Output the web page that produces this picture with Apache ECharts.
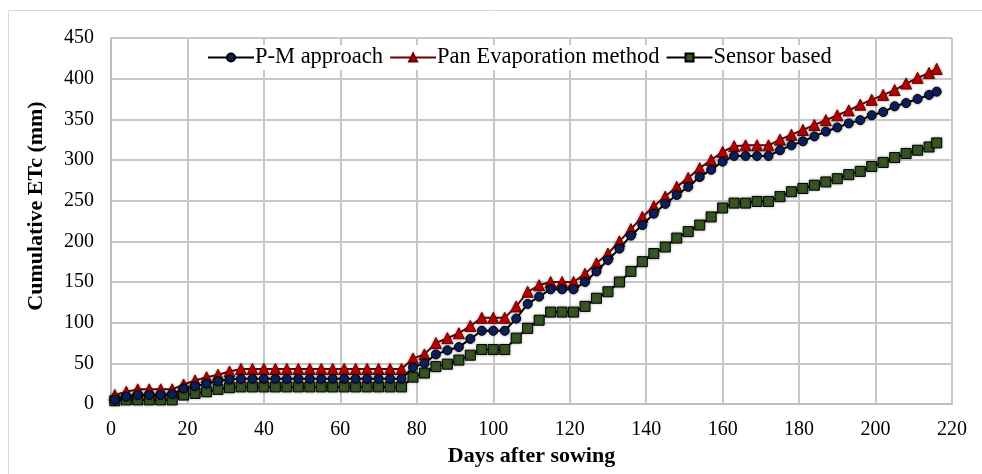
<!DOCTYPE html>
<html>
<head>
<meta charset="utf-8">
<script src="https://cdn.jsdelivr.net/npm/echarts@6/dist/echarts.min.js"></script>
<style>
  html, body { margin: 0; padding: 0; background: #fff; }
  #chart { width: 982px; height: 474px; }
</style>
</head>
<body>
<div id="chart"></div>
<script>
// 播種後日数（3日ごと）
const days = [1, 4, 7, 10, 13, 16, 19, 22, 25, 28, 31, 34, 37, 40, 43, 46, 49, 52, 55, 58,
  61, 64, 67, 70, 73, 76, 79, 82, 85, 88, 91, 94, 97, 100, 103, 106, 109, 112, 115, 118,
  121, 124, 127, 130, 133, 136, 139, 142, 145, 148, 151, 154, 157, 160, 163, 166, 169, 172, 175, 178,
  181, 184, 187, 190, 193, 196, 199, 202, 205, 208, 211, 214, 216];

// P-M approach
const pmValues = [5, 9, 11, 11, 11, 12, 19, 22, 25, 28, 30, 31, 31, 31, 31, 31, 31, 31, 31, 31,
  31, 31, 31, 31, 31, 31, 45, 50, 61, 66, 70, 80, 90, 90, 90, 105, 123, 132, 141, 141,
  141, 150, 163, 177, 191, 207, 220, 234, 246, 257, 267, 279, 288, 298, 305, 305, 305, 305, 312, 318,
  323, 329, 335, 340, 345, 349, 355, 359, 366, 370, 375, 380, 384];

// Pan Evaporation method
const panValues = [11, 15, 18, 18, 18, 18, 24, 29, 33, 36, 40, 43, 43, 43, 43, 43, 43, 43, 43, 43,
  43, 43, 43, 43, 43, 43, 56, 61, 75, 81, 87, 96, 106, 106, 106, 120, 138, 146, 150, 150,
  150, 160, 173, 185, 200, 215, 230, 243, 255, 267, 278, 290, 300, 310, 317, 318, 318, 318, 325, 331,
  337, 343, 349, 355, 361, 368, 374, 380, 386, 394, 401, 407, 412];

// Sensor based
const sensorValues = [4, 5, 5, 5, 5, 5, 11, 13, 15, 18, 20, 21, 21, 21, 21, 21, 21, 21, 21, 21,
  21, 21, 21, 21, 21, 21, 33, 38, 46, 49, 54, 60, 67, 67, 67, 81, 93, 103, 113, 113,
  113, 120, 130, 138, 150, 163, 175, 185, 193, 204, 212, 220, 230, 241, 247, 247, 249, 249, 255, 261,
  265, 269, 273, 277, 282, 286, 292, 297, 303, 308, 312, 316, 321];

const seriesNames = ['P-M approach', 'Pan Evaporation method', 'Sensor based'];

const chart = echarts.init(document.getElementById('chart'));

const font = '"Liberation Serif", "Times New Roman", serif';

// 日数と値を組にする
const toPairs = values => days.map((d, i) => [d, values[i]]);

const markerShadow = {
  shadowColor: 'rgba(0,0,0,0.35)',
  shadowBlur: 3
};

const option = {
  animation: false,
  backgroundColor: '#fff',
  textStyle: { fontFamily: font },
  graphic: [{
    type: 'rect',
    shape: { x: 8.5, y: 10.5, width: 1000, height: 1000 },
    style: { fill: 'none', stroke: '#d9d9d9', lineWidth: 1 },
    silent: true,
    z: -1
  }],
  grid: { left: 111, right: 30, top: 38, bottom: 70, outerBoundsMode: 'none', containLabel: false },
  legend: {
    top: 45,
    left: 203,
    itemGap: 6,
    itemWidth: 46,
    itemHeight: 10,
    backgroundColor: '#fff',
    padding: [1, 4],
    textStyle: { fontFamily: font, fontSize: 22.5, color: '#000', padding: [0, 0, 0, -4] },
    data: seriesNames
  },
  xAxis: {
    type: 'value',
    min: 0,
    max: 220,
    interval: 20,
    name: 'Days after sowing',
    nameLocation: 'middle',
    nameGap: 41,
    nameTextStyle: { fontFamily: font, fontSize: 22, fontWeight: 'bold', color: '#000' },
    axisLine: { show: true, lineStyle: { color: '#bfbfbf', width: 2 } },
    axisTick: { show: false },
    axisLabel: { fontFamily: font, fontSize: 20, color: '#000', margin: 16 },
    splitLine: { show: true, lineStyle: { color: '#c8c8c8', width: 2 } }
  },
  yAxis: {
    type: 'value',
    min: 0,
    max: 450,
    interval: 50,
    name: 'Cumulative ETc (mm)',
    nameLocation: 'middle',
    nameGap: 64,
    nameTextStyle: { fontFamily: font, fontSize: 22, fontWeight: 'bold', color: '#000', padding: [0, 0, 0, 30] },
    axisLine: { show: true, lineStyle: { color: '#bfbfbf', width: 2 } },
    axisTick: { show: false },
    axisLabel: { fontFamily: font, fontSize: 20, color: '#000', margin: 17 },
    splitLine: { show: true, lineStyle: { color: '#c8c8c8', width: 2 } }
  },
  series: [
    {
      name: seriesNames[0],
      type: 'line',
      data: toPairs(pmValues),
      symbol: 'circle',
      symbolSize: 9,
      z: 3,
      lineStyle: { color: '#000', width: 2 },
      itemStyle: Object.assign({ color: '#0c1f5e', borderColor: '#000', borderWidth: 1 }, markerShadow)
    },
    {
      name: seriesNames[1],
      type: 'line',
      data: toPairs(panValues),
      symbol: 'triangle',
      symbolSize: 11,
      z: 2,
      lineStyle: { color: '#6b0000', width: 2 },
      itemStyle: Object.assign({ color: '#c00000', borderColor: '#6b0000', borderWidth: 1 }, markerShadow)
    },
    {
      name: seriesNames[2],
      type: 'line',
      data: toPairs(sensorValues),
      symbol: 'rect',
      symbolSize: 10,
      z: 2,
      lineStyle: { color: '#000', width: 2 },
      itemStyle: Object.assign({ color: '#375623', borderColor: '#000', borderWidth: 1 }, markerShadow)
    }
  ]
};

chart.setOption(option);
</script>
</body>
</html>
